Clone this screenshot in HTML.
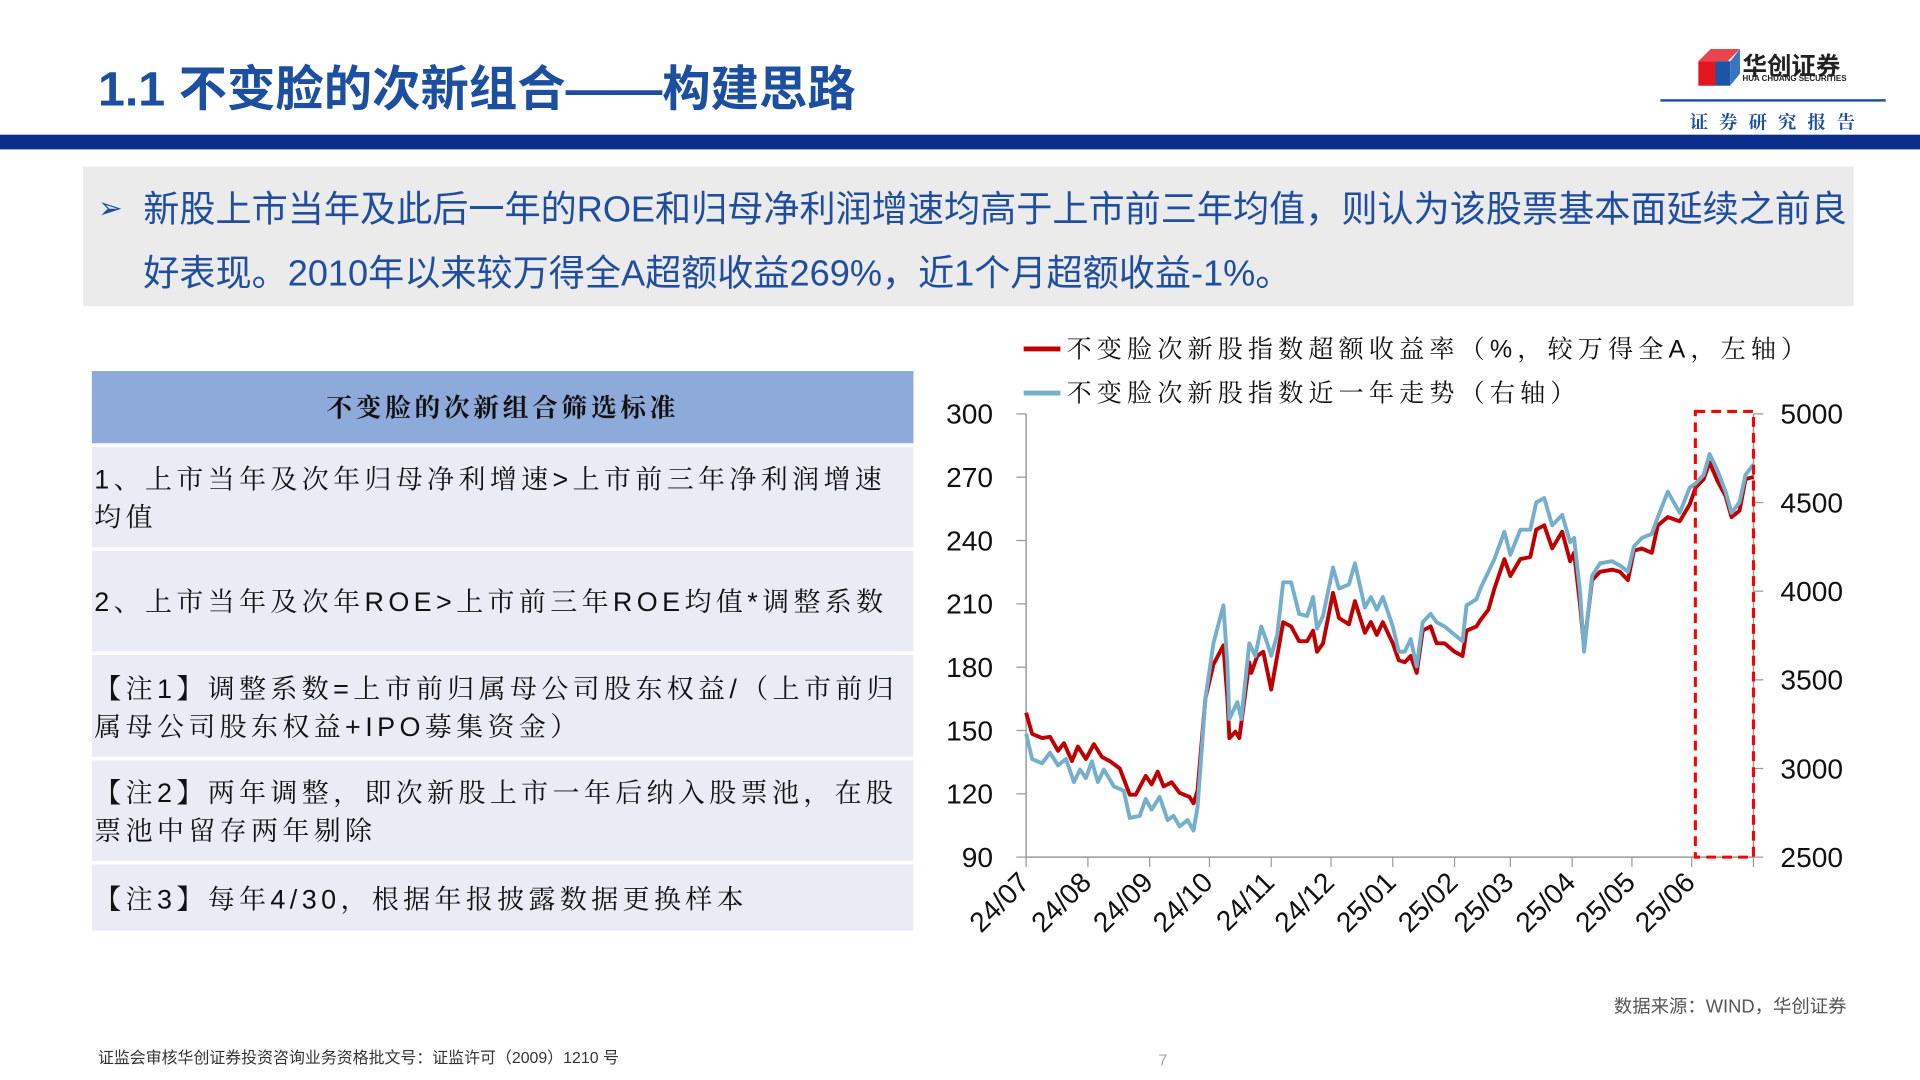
<!DOCTYPE html>
<html><head><meta charset="utf-8">
<style>
html,body{margin:0;padding:0;width:1920px;height:1080px;overflow:hidden;background:#fff;}
#stage{position:absolute;left:0;top:0;width:1568px;height:882px;transform:scale(1.22449);transform-origin:0 0;font-family:"Liberation Sans","Noto Sans CJK SC",sans-serif;}
.abs{position:absolute;}
.row{position:absolute;left:75px;width:671px;background:#e9ebf5;font-size:22px;color:#111;letter-spacing:3.6px;line-height:31px;box-sizing:border-box;padding-left:2px;font-family:"Liberation Sans","Noto Serif CJK SC",serif;}
</style></head><body>
<div id="stage">
<div class="abs" style="left:80px;top:41px;font-size:39.5px;font-weight:bold;color:#1c4fa0;white-space:nowrap;">1.1 不变脸的次新组合——构建思路</div>
<div class="abs" style="left:1385px;top:38px;width:135px;height:34px;">
 <svg width="36" height="34" style="position:absolute;left:0;top:0"><polygon points="2,12 12,2 36,2 26,12" fill="#e8464c"/><rect x="2" y="12" width="14" height="20" fill="#e3151f"/><rect x="16" y="12" width="12" height="20" fill="#1b55a6"/><polygon points="28,12 36,2 36,22 28,32" fill="#3a73c0"/></svg>
 <div style="position:absolute;left:38px;top:0;font-size:20px;font-weight:bold;color:#222;white-space:nowrap;">华创证券</div>
 <div style="position:absolute;left:38px;top:23px;font-size:6.5px;font-weight:bold;color:#222;white-space:nowrap;">HUA CHUANG SECURITIES</div>
</div>
<div class="abs" style="left:1356px;top:81px;width:184px;height:2px;background:#1c4fa0;"></div>
<div class="abs" style="left:1380px;top:89px;font-size:15px;color:#1c4fa0;letter-spacing:9px;font-weight:bold;white-space:nowrap;font-family:'Liberation Serif','Noto Serif CJK SC',serif;">证券研究报告</div>
<div class="abs" style="left:0;top:110px;width:1568px;height:12px;background:#0b2d8b;"></div>
<div class="abs" style="left:68px;top:136px;width:1446px;height:114px;background:#ebebeb;">
 <div class="abs" style="left:12px;top:20px;font-size:24px;color:#1c4fa0;">➢</div>
 <div class="abs" style="left:49px;top:10px;font-size:29.5px;line-height:52px;color:#1f4e9f;white-space:nowrap;">新股上市当年及此后一年的ROE和归母净利润增速均高于上市前三年均值，则认为该股票基本面延续之前良<br>好表现。2010年以来较万得全A超额收益269%，近1个月超额收益-1%。</div>
</div>
<div class="abs" style="left:75px;top:303px;width:671px;height:59px;background:#8eaadb;text-align:center;line-height:62px;font-size:21px;font-weight:bold;letter-spacing:3px;color:#111;font-family:'Liberation Sans','Noto Serif CJK SC',serif;">不变脸的次新组合筛选标准</div>
<div class="row" style="top:365px;height:82px;padding-top:11px;">1、上市当年及次年归母净利增速&gt;上市前三年净利润增速均值</div>
<div class="row" style="top:450px;height:82px;padding-top:26px;">2、上市当年及次年ROE&gt;上市前三年ROE均值*调整系数</div>
<div class="row" style="top:535px;height:83px;padding-top:12px;">【注1】调整系数=上市前归属母公司股东权益/（上市前归属母公司股东权益+IPO募集资金）</div>
<div class="row" style="top:621px;height:82px;padding-top:11px;">【注2】两年调整，即次新股上市一年后纳入股票池，在股票池中留存两年剔除</div>
<div class="row" style="top:706px;height:54px;padding-top:13px;">【注3】每年4/30，根据年报披露数据更换样本</div>
<svg id="chart" class="abs" style="left:0;top:0" width="1568" height="882"></svg>
<div class="abs" style="left:1318px;top:811px;font-size:15px;color:#555;white-space:nowrap;">数据来源：WIND，华创证券</div>
<div class="abs" style="left:80px;top:853px;font-size:13px;color:#333;white-space:nowrap;">证监会审核华创证券投资咨询业务资格批文号：证监许可（2009）1210 号</div>
<div class="abs" style="left:946px;top:858px;font-size:13px;color:#aaa;">7</div>
</div>
<script>
const monthLabels=["24/07","24/08","24/09","24/10","24/11","24/12","25/01","25/02","25/03","25/04","25/05","25/06"];
const monthDays=[0,31,62,92,123,153,184,215,243,274,304,334,365];
const leftTicks=[90,120,150,180,210,240,270,300];
const rightTicks=[2500,3000,3500,4000,4500,5000];
const redDays=[0,3,8,12,16,19,23,26,30,34,38,42,47,52,55,60,63,66,69,73,77,82,84,86,90,94,99,101,102,105,107,112,113,116,119,123,126,129,133,137,141,144,146,149,154,157,162,165,170,173,176,179,184,187,190,193,196,199,203,206,210,215,219,221,226,228,232,235,240,243,248,253,256,260,264,269,273,275,278,280,284,288,294,298,302,305,309,314,317,322,328,333,336,340,343,347,351,354,358,361,365];
const redValues=[158.4,148.4,146.4,147,140.4,144,135.5,142.4,136.5,143.5,137.5,135.5,132,119.6,119.6,128.5,124.5,130.5,123.5,125.5,120.5,118.5,115.5,121.5,165.4,181.3,190.3,165.4,146.4,149.4,146.4,182.3,177.3,185.3,187.3,169.4,185.3,201.3,199.3,192.3,192.3,197.3,187.3,191.3,215.2,203.3,200.3,211.3,196.3,201.4,195.3,201.3,191.3,183.3,182.3,185.3,177.3,197.3,199.3,191.3,191.3,187.3,185.3,197.3,199.3,202.3,207.3,217.2,231.2,223.2,231.2,232.2,245.2,247.2,236.3,244.2,230.2,234.2,209.3,189.3,221.2,225.2,226.2,225.2,221.2,235.2,236.2,234.2,247.2,251.1,249.1,257.1,265.1,269.1,277,268.1,261.1,251.1,254.1,269.1,270.1];
const blueDays=[0,3,8,12,16,20,24,27,30,33,36,39,44,49,52,57,60,63,67,71,74,77,81,84,86,90,94,99,101,102,106,108,112,115,118,121,123,126,129,133,137,141,144,146,149,154,157,162,165,170,173,176,179,184,187,190,193,196,199,203,206,210,215,219,221,226,228,232,235,240,243,248,253,256,260,264,269,273,275,278,280,284,288,294,298,302,305,309,314,317,322,328,333,336,340,343,347,351,354,358,361,365];
const blueValues=[3196,3053,3029,3089,3018,3053,2923,2994,2946,3041,2923,2994,2899,2875,2721,2733,2828,2768,2840,2709,2733,2673,2709,2650,2780,3397,3706,3920,3587,3279,3374,3279,3706,3635,3801,3706,3635,3754,4050,4050,3872,3860,3967,3789,3860,4133,4015,4038,4157,3908,3967,3896,3967,3801,3659,3659,3730,3576,3825,3872,3825,3801,3754,3718,3920,3955,4015,4110,4181,4335,4205,4347,4347,4501,4525,4371,4430,4276,4300,3991,3659,4086,4157,4169,4145,4110,4252,4300,4323,4418,4561,4442,4584,4608,4656,4774,4679,4561,4442,4501,4656,4715];
const svg=document.getElementById('chart');const NS='http://www.w3.org/2000/svg';
const X0=838,X1=1432,Y0=700,Y1=338;
const xs=d=>X0+d/365*(X1-X0);
const yl=v=>Y0-(v-90)/(300-90)*(Y0-Y1);
const yr=v=>Y0-(v-2500)/(5000-2500)*(Y0-Y1);
function mk(tag,attrs,parent){const e=document.createElementNS(NS,tag);for(const k in attrs)e.setAttribute(k,attrs[k]);(parent||svg).appendChild(e);return e;}
const F='"Liberation Sans","Noto Sans CJK SC",sans-serif';
let e;
e=mk('line',{x1:X0,y1:Y1,x2:X0,y2:Y0,stroke:'#999','stroke-width':1.2});


e=mk('line',{x1:X1,y1:Y1,x2:X1,y2:Y0,stroke:'#999','stroke-width':1.2});


e=mk('line',{x1:X0,y1:Y0,x2:X1,y2:Y0,stroke:'#999','stroke-width':1.2});


leftTicks.forEach(v=>{const y=yl(v);
 e=mk('line',{x1:X0-8,y1:y,x2:X0,y2:y,stroke:'#999'});
 
 
 e=mk('text',{x:X0-27,y:y+8,'text-anchor':'end','font-size':23,'font-family':F,fill:'#111'});e.textContent=v;
 
 
});
rightTicks.forEach(v=>{const y=yr(v);
 e=mk('line',{x1:X1,y1:y,x2:X1+8,y2:y,stroke:'#999'});
 
 
 e=mk('text',{x:X1+22,y:y+8,'font-size':23,'font-family':F,fill:'#111'});e.textContent=v;
 
 
});
monthDays.forEach((d,i)=>{const x=xs(d);
 e=mk('line',{x1:x,y1:Y0,x2:x,y2:Y0+8,stroke:'#999'});
 
 
 if(i<monthLabels.length){
  e=mk('text',{x:x+4,y:Y0+22,'text-anchor':'end','font-size':23,'font-family':F,fill:'#111',transform:`rotate(-45 ${x+4} ${Y0+22})`});e.textContent=monthLabels[i];
  
  
 }
});
e=mk('polyline',{points:redDays.map((d,i)=>xs(d)+','+yl(redValues[i])).join(' '),fill:'none',stroke:'#c00000','stroke-width':3.2,'stroke-linejoin':'round'});


e=mk('polyline',{points:blueDays.map((d,i)=>xs(d)+','+yr(blueValues[i])).join(' '),fill:'none',stroke:'#74afcc','stroke-width':3.2,'stroke-linejoin':'round'});


e=mk('rect',{x:xs(monthDays[11])+3,y:Y1-2,width:X1-xs(monthDays[11])-3,height:Y0-Y1+2,fill:'none',stroke:'#ff0000','stroke-width':2.5,'stroke-dasharray':'8,5'});


e=mk('line',{x1:836,y1:285,x2:866,y2:285,stroke:'#c00000','stroke-width':4});


e=mk('text',{x:871,y:292,'font-size':20.5,'font-family':'"Liberation Sans","Noto Serif CJK SC",serif','letter-spacing':4.2,fill:'#111'});e.textContent='不变脸次新股指数超额收益率（%，较万得全A，左轴）';


e=mk('line',{x1:836,y1:321,x2:866,y2:321,stroke:'#74afcc','stroke-width':4});


e=mk('text',{x:871,y:328,'font-size':20.5,'font-family':'"Liberation Sans","Noto Serif CJK SC",serif','letter-spacing':4.2,fill:'#111'});e.textContent='不变脸次新股指数近一年走势（右轴）';


</script>
</body></html>
